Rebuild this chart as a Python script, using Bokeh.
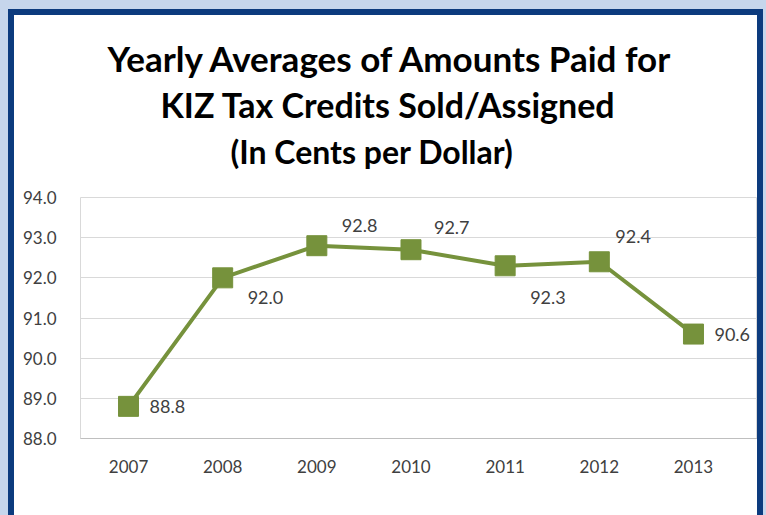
from bokeh.plotting import figure
from bokeh.models import (ColumnDataSource, Range1d, Title, FixedTicker,
                          NumeralTickFormatter, LabelSet)
from bokeh.core.properties import value
from bokeh.embed import file_html
from bokeh.resources import INLINE

# ---- data ----
years = ["2007", "2008", "2009", "2010", "2011", "2012", "2013"]
avg_cents = [88.8, 92.0, 92.8, 92.7, 92.3, 92.4, 90.6]
y_ticks = [88, 89, 90, 91, 92, 93, 94]
title_lines = ["Yearly Averages of Amounts Paid for",
               "KIZ Tax Credits Sold/Assigned",
               "(In Cents per Dollar)"]

# label placement styles (screen px offsets, +dy = up)
label_dx = [21, 25, 25, 23, 25, 16, 21]
label_dy = [0, -20, 20, 22, -32, 25, 0]

FONT = "Lato"
GREEN = "#76923c"

pos = list(range(len(years)))
src = ColumnDataSource(dict(x=pos, val=avg_cents,
                            lab=[f"{v:.1f}" for v in avg_cents],
                            dx=label_dx, dy=label_dy))

p = figure(x_range=Range1d(-0.51, 6.68), y_range=Range1d(88, 94),
           width=743, height=500, output_backend="svg", toolbar_location=None,
           min_border_left=66, min_border_right=0, min_border_bottom=77,
           min_border_top=182,
           background_fill_color="white", border_fill_color="white",
           styles={"margin-left": "14px", "margin-top": "15px",
                   "box-shadow": "0 0 0 6px #0c3b7e, 0 0 0 20px #c6d6ec"})

title_sizes = ["35px", "34px", "32px"]
title_offsets = [27, 80, 150]
title_standoffs = [43, -42, 53]
title_valign = ["top", "bottom", "bottom"]
for i in reversed(range(3)):
    t = Title(text=title_lines[i], align="left", text_font=FONT,
              text_font_size=title_sizes[i], text_font_style="bold",
              text_color="black", offset=title_offsets[i],
              standoff=title_standoffs[i], vertical_align=title_valign[i])
    p.add_layout(t, "above")

p.line(x="x", y="val", source=src, line_color=GREEN, line_width=4)
p.scatter(x="x", y="val", source=src, marker="square", size=20,
          fill_color=GREEN, line_color=GREEN)
labels = LabelSet(x="x", y="val", text="lab", source=src,
                  x_offset="dx", y_offset="dy",
                  text_font=value(FONT), text_font_size=value("18px"),
                  text_color="#404040",
                  text_align="left", text_baseline="middle")
p.add_layout(labels)

p.outline_line_color = "#d9d9d9"
p.xgrid.grid_line_color = None
p.ygrid.grid_line_color = "#d9d9d9"
p.ygrid.grid_line_width = 1

p.xaxis.ticker = FixedTicker(ticks=pos)
p.xaxis.major_label_overrides = {i: y for i, y in enumerate(years)}
p.yaxis.ticker = FixedTicker(ticks=y_ticks)
p.yaxis.formatter = NumeralTickFormatter(format="0.0")
for ax in (p.xaxis[0], p.yaxis[0]):
    ax.major_tick_line_color = None
    ax.minor_tick_line_color = None
    ax.major_label_text_font = FONT
    ax.major_label_text_font_size = "17px"
    ax.major_label_text_color = "#404040"
p.yaxis.axis_line_color = None
p.yaxis.major_label_standoff = 18
p.xaxis.axis_line_color = "#bfbfbf"
p.xaxis.major_label_standoff = 15

open("out.html", "w").write(file_html(p, INLINE))
